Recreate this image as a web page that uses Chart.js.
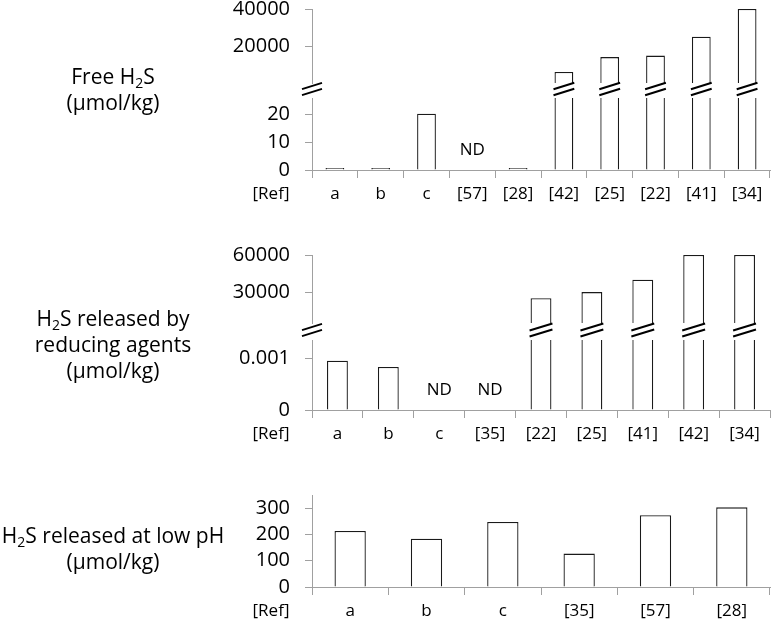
<!DOCTYPE html>
<html>
<head>
<meta charset="utf-8">
<script src="https://cdn.jsdelivr.net/npm/chart.js@4.4.0/dist/chart.umd.min.js"></script>
<style>
  html, body { margin: 0; padding: 0; background: #fff; }
  body { width: 771px; height: 632px; position: relative; overflow: hidden; font-family: "Open Sans", sans-serif; }
  canvas { position: absolute; left: 0; }
  .titulo { position: absolute; left: 0; width: 226px; text-align: center; font-size: 21px; line-height: 26px; color: #000; white-space: nowrap; z-index: 2; }
  .titulo sub { font-size: 14px; line-height: 0; vertical-align: -4px; }
</style>
</head>
<body>

<canvas id="grafico1" width="771" height="210" style="top:0px"></canvas>
<canvas id="grafico2" width="771" height="230" style="top:220px"></canvas>
<canvas id="grafico3" width="771" height="172" style="top:460px"></canvas>

<div class="titulo" style="top:63px">Free H<sub>2</sub>S<br>(µmol/kg)</div>
<div class="titulo" style="top:305px">H<sub>2</sub>S released by<br>reducing agents<br>(µmol/kg)</div>
<div class="titulo" style="top:522px">H<sub>2</sub>S released at low pH<br>(µmol/kg)</div>

<script>
/* Dados do painel 1 - Free H2S */
var categorias_livre = ['a', 'b', 'c', '[57]', '[28]', '[42]', '[25]', '[22]', '[41]', '[34]'];
var valores_livre = [0.2, 0.3, 20.3, null, 0.1, 6000, 14000, 14800, 25000, 40000];
var ticks_livre_baixo = [0, 10, 20];
var ticks_livre_cima = [20000, 40000];

/* Dados do painel 2 - H2S released by reducing agents */
var categorias_redutores = ['a', 'b', 'c', '[35]', '[22]', '[25]', '[41]', '[42]', '[34]'];
var valores_redutores = [0.00095, 0.00083, null, null, 25000, 30000, 40000, 60000, 60000];
var ticks_redutores_baixo = [0, 0.001];
var ticks_redutores_cima = [30000, 60000];

/* Dados do painel 3 - H2S released at low pH */
var categorias_ph = ['a', 'b', 'c', '[35]', '[57]', '[28]'];
var valores_ph = [213, 184, 247, 127, 273, 303];
var ticks_ph = [0, 100, 200, 300];

Chart.defaults.font.family = '"Open Sans", sans-serif';
Chart.defaults.color = '#000';

var cinza = '#a0a0a0';
var preto = '#1a1a1a';

/* Eixo Y com os ticks fixos */
function eixoY(ticks, min, max, peso, ordem) {
  return {
    type: 'linear', position: 'left', stack: 'y', stackWeight: peso, weight: ordem,
    min: min, max: max,
    afterBuildTicks: function (s) { s.ticks = ticks.map(function (v) { return { value: v }; }); },
    afterFit: function (s) { s.width = 312; s.paddingTop = 0; s.paddingBottom = 0; },
    grid: { drawOnChartArea: false, tickLength: 7, color: cinza },
    border: { color: cinza },
    ticks: {
      font: { size: 20 }, color: '#000', padding: 15, autoSkip: false,
      callback: function (v) { return String(v); }
    }
  };
}

/* Eixo vazio que faz o espaço da quebra */
function eixoVao(peso) {
  return {
    type: 'linear', position: 'left', stack: 'y', stackWeight: peso, weight: 2,
    min: 0, max: 1,
    afterFit: function (s) { s.width = 312; s.paddingTop = 0; s.paddingBottom = 0; },
    grid: { display: false }, border: { display: false }, ticks: { display: false }
  };
}

function eixoX(categorias, altura) {
  return {
    type: 'category', labels: categorias, position: 'bottom', offset: true,
    afterFit: function (s) { s.height = altura; s.paddingLeft = 0; s.paddingRight = 0; },
    grid: { drawOnChartArea: false, offset: true, tickLength: 8, color: cinza },
    border: { color: cinza },
    ticks: { font: { size: 17 }, color: '#000', padding: 6, maxRotation: 0, autoSkip: false }
  };
}

var estiloBarra = {
  backgroundColor: '#ffffff',
  borderColor: preto,
  barPercentage: 0.41,
  categoryPercentage: 1,
  grouped: false
};

/* Divide os valores entre a parte de baixo e a parte de cima do eixo quebrado */
function barrasQuebradas(valores, limite) {
  var baixo = valores.map(function (v) { return v === null ? null : Math.min(v, limite); });
  var cima = valores.map(function (v) { return v !== null && v > limite ? v : null; });
  return [
    Object.assign({ data: cima, yAxisID: 'yCima', borderWidth: 1.3 }, estiloBarra),
    Object.assign({
      data: baixo, yAxisID: 'yBaixo', minBarLength: 2,
      borderWidth: function (c) {
        return valores[c.dataIndex] > limite ? { left: 1.3, right: 1.3, top: 0, bottom: 0 } : 1.3;
      }
    }, estiloBarra)
  ];
}

function linhasQuebra(ctx, x0, x1, meio) {
  var sobe = (x1 - x0) * 0.31;
  var c = meio - 1.5;
  ctx.beginPath();
  ctx.moveTo(x0, c - 3 + sobe / 2); ctx.lineTo(x1, c - 3 - sobe / 2);
  ctx.moveTo(x0, c + 3 + sobe / 2); ctx.lineTo(x1, c + 3 - sobe / 2);
  ctx.stroke();
}

/* Plugin: [Ref], ND e as marcas de quebra */
var marcasPlugin = {
  id: 'marcas',
  afterDatasetsDraw: function (chart, args, o) {
    var ctx = chart.ctx;
    var area = chart.chartArea;
    var x = chart.scales.x;
    ctx.save();
    ctx.fillStyle = '#000';
    ctx.font = '17px "Open Sans"';
    ctx.textAlign = 'center';
    ctx.textBaseline = 'middle';
    ctx.fillText('[Ref]', area.left - 41, area.bottom + 24);
    o.valores.forEach(function (v, i) {
      if (v === null) ctx.fillText('ND', x.getPixelForValue(i), area.bottom - 20);
    });
    if (o.limite !== undefined) {
      var meio = (chart.scales.yCima.bottom + chart.scales.yBaixo.top) / 2;
      ctx.strokeStyle = '#000';
      ctx.lineWidth = 2;
      linhasQuebra(ctx, area.left - 10, area.left + 10, meio);
      chart.getDatasetMeta(0).data.forEach(function (el, i) {
        if (o.valores[i] !== null && o.valores[i] > o.limite) {
          linhasQuebra(ctx, el.x - el.width / 2 - 1, el.x + el.width / 2 + 1, meio);
        }
      });
    }
    ctx.restore();
  }
};

function opcoesBase(topo, escalas, valores, limite) {
  return {
    responsive: false,
    animation: false,
    events: [],
    layout: { padding: { top: topo, right: 1, bottom: 0, left: 0 } },
    plugins: {
      legend: { display: false },
      tooltip: { enabled: false },
      marcas: { valores: valores, limite: limite }
    },
    scales: escalas
  };
}

/* Painel 1 */
new Chart(document.getElementById('grafico1'), {
  type: 'bar',
  data: { labels: categorias_livre, datasets: barrasQuebradas(valores_livre, 26) },
  options: opcoesBase(9, {
    x: eixoX(categorias_livre, 40),
    yCima: eixoY(ticks_livre_cima, 0, 40000, 74, 3),
    yVao: eixoVao(15),
    yBaixo: eixoY(ticks_livre_baixo, 0, 26, 72, 1)
  }, valores_livre, 26),
  plugins: [marcasPlugin]
});

/* Painel 2 */
new Chart(document.getElementById('grafico2'), {
  type: 'bar',
  data: { labels: categorias_redutores, datasets: barrasQuebradas(valores_redutores, 0.00135) },
  options: opcoesBase(35, {
    x: eixoX(categorias_redutores, 40),
    yCima: eixoY(ticks_redutores_cima, 5000, 60000, 68, 3),
    yVao: eixoVao(17),
    yBaixo: eixoY(ticks_redutores_baixo, 0, 0.00135, 70, 1)
  }, valores_redutores, 0.00135),
  plugins: [marcasPlugin]
});

/* Painel 3 */
var eixoPh = eixoY(ticks_ph, 0, 350, 1, 1);
delete eixoPh.stack;
new Chart(document.getElementById('grafico3'), {
  type: 'bar',
  data: {
    labels: categorias_ph,
    datasets: [Object.assign({ data: valores_ph, yAxisID: 'y', borderWidth: 1.3 }, estiloBarra)]
  },
  options: opcoesBase(35, {
    x: eixoX(categorias_ph, 45),
    y: eixoPh
  }, valores_ph, undefined),
  plugins: [marcasPlugin]
});
</script>
</body>
</html>
